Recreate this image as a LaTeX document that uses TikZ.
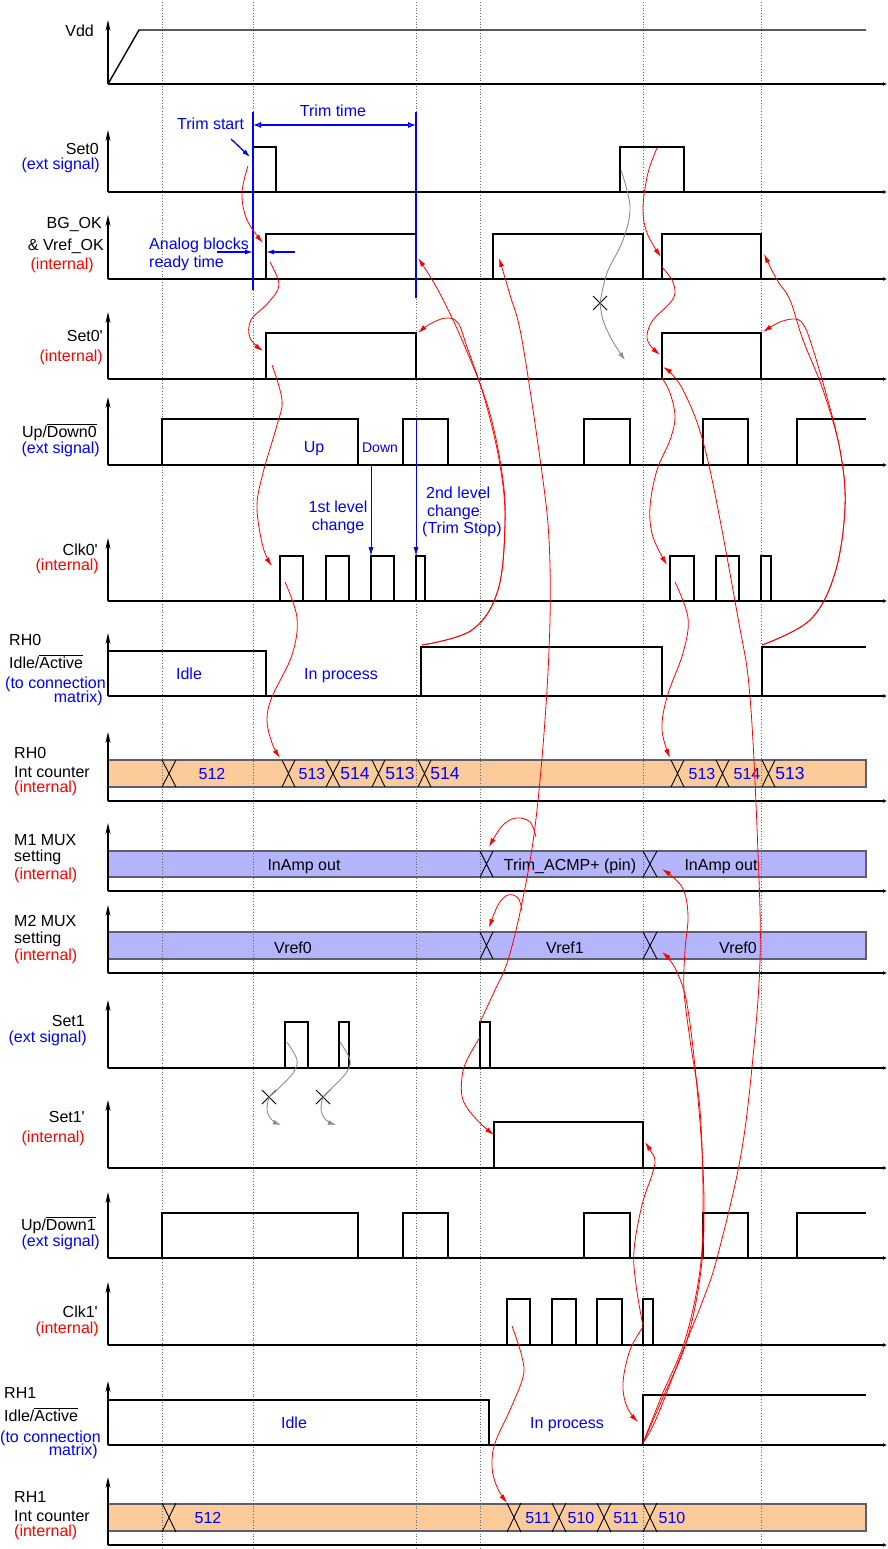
\documentclass[tikz,border=0pt]{standalone}
\usepackage{fontspec}
\setmainfont{Liberation Sans}[Ligatures=TeXOff]
\usetikzlibrary{arrows.meta,shapes.misc}
\definecolor{cblue}{RGB}{0,0,255}
\definecolor{cred}{RGB}{255,0,0}
\definecolor{busorange}{RGB}{251,204,153}
\definecolor{buslav}{RGB}{180,180,255}
\definecolor{busedge}{RGB}{95,95,105}
\newcommand\fsz[1]{\fontsize{#1}{#1}\selectfont}
\newcommand\sigaxes[2]{\draw[axv] (108,#2) -- (108,#1); \draw[axh] (108,#2) -- (887,#2);}
\newcommand\busx[4]{\draw[xln] (#1,#3) -- (#2,#4) (#1,#4) -- (#2,#3);}
\begin{document}
\begin{tikzpicture}[x=1pt,y=-1pt,
  sig/.style={line width=2.8pt,line join=miter},
  axv/.style={line width=1.4pt,-{Stealth[length=11pt,width=5pt]}},
  axh/.style={line width=1.4pt,-{Latex[length=4pt,width=4pt]}},
  gridln/.style={black!60,dotted,line width=0.8pt},
  xln/.style={black,line width=0.9pt},
  busA/.style={fill=busorange,draw=busedge,line width=1.3pt},
  busB/.style={fill=buslav,draw=busedge,line width=1.3pt},
  lbl/.style={inner sep=0pt,font=\fsz{16}},
  lblb/.style={lbl,text=cblue},
  lblr/.style={lbl,text=cred},
  bline/.style={cblue,line width=1.3pt},
  barrow/.style={cblue,line width=1.3pt,-{Latex[length=8pt,width=5pt]}},
  barrowthin/.style={cblue,line width=0.9pt,-{Latex[length=9pt,width=5pt]}},
  cause/.style={cred,line width=0.8pt,-{Latex[length=9pt,width=5pt]}},
  causeline/.style={cred,line width=0.8pt},
  blocked/.style={black!45,line width=0.9pt},
  blockedarr/.style={black!45,line width=0.9pt,-{Latex[length=8pt,width=5pt]}},
  nox/.style={cross out,draw=black,line width=1pt,minimum size=13pt,inner sep=0pt}
]
\useasboundingbox (0,0) rectangle (887,1549);

% ---------------- bus bars ----------------
\draw[busA] (108,760) rectangle (866,787);
\draw[busB] (108,851) rectangle (866,877);
\draw[busB] (108,932) rectangle (866,959);
\draw[busA] (108,1504) rectangle (866,1531);

% ---------------- grid ----------------
\foreach \gx in {162,253,416,480,643,761} {\draw[gridln] (\gx,2) -- (\gx,1549);}

% ---------------- axes ----------------
\sigaxes{20}{84}
\sigaxes{130}{192}
\sigaxes{215}{279}
\sigaxes{312}{379}
\sigaxes{397}{465}
\sigaxes{538}{601}
\sigaxes{633}{696}
\sigaxes{732}{801}
\sigaxes{823}{891}
\sigaxes{905}{973}
\sigaxes{1000}{1068}
\sigaxes{1100}{1168}
\sigaxes{1192}{1258}
\sigaxes{1282}{1345}
\sigaxes{1381}{1445}
\sigaxes{1477}{1545}

% ---------------- signals ----------------
\draw[line width=1.4pt] (108,84) -- (139,30) -- (866,30);
\draw[sig] (108,192) -| (253,147) -| (276,192) -| (620,147) -| (684,192) -- (866,192);
\draw[sig] (108,279) -| (266,234) -| (416,279) -| (493,234) -| (643,279) -| (662,234) -| (761,279) -- (866,279);
\draw[sig] (108,379) -| (266,333) -| (416,379) -| (662,333) -| (761,379) -- (866,379);
\draw[sig] (108,465) -| (162,419) -| (358,465) -| (403,419) -| (448,465) -| (584,419) -| (630,465) -| (703,419) -| (748,465) -| (797,419) -- (866,419);
\draw[sig] (108,601) -| (280,556) -| (303,601) -| (326,556) -| (349,601) -| (371,556) -| (394,601) -| (416,556) -| (425,601) -| (670,556) -| (694,601) -| (716,556) -| (739,601) -| (761,556) -| (771,601) -- (866,601);
\draw[sig] (108,651) -| (266,696) -| (421,647) -| (662,696) -| (762,647) -- (866,647);
\draw[sig] (108,1068) -| (285,1022) -| (308,1068) -| (339,1022) -| (349,1068) -| (480,1022) -| (490,1068) -- (866,1068);
\draw[sig] (108,1168) -| (494,1122) -| (643,1168) -- (866,1168);
\draw[sig] (108,1258) -| (162,1213) -| (358,1258) -| (403,1213) -| (448,1258) -| (584,1213) -| (630,1258) -| (703,1213) -| (748,1258) -| (797,1213) -- (866,1213);
\draw[sig] (108,1345) -| (507,1299) -| (530,1345) -| (552,1299) -| (576,1345) -| (597,1299) -| (622,1345) -| (643,1299) -| (653,1345) -- (866,1345);
\draw[sig] (108,1400) -| (489,1445) -| (643,1395) -- (866,1395);

% ---------------- bus crossings ----------------
\foreach \a/\b in {162/176,282/295,326/340,372/385,418/431,671/684,716/729,762/775} {\busx{\a}{\b}{760}{787}}
\foreach \a/\b in {480/493,643/657} {\busx{\a}{\b}{851}{877}\busx{\a}{\b}{932}{959}}
\foreach \a/\b in {162/176,507/521,552/566,597/611,643/657} {\busx{\a}{\b}{1503}{1532}}

% ---------------- left labels ----------------
\node[lbl,anchor=base east] (lvdd) at (94,37) {Vdd};
\node[lbl,anchor=base east] (lset0) at (99,155) {Set0};
\node[lblb,anchor=base east] (lset0b) at (100,170) {(ext signal)};
\node[lbl,anchor=base east] (lbg) at (102,228) {BG\_OK};
\node[lbl,anchor=base east] (lvref) at (104,250) {\& Vref\_OK};
\node[lblr,anchor=base east] (lbgr) at (94,269) {(internal)};
\node[lbl,anchor=base east] (lset0p) at (103,341) {Set0'};
\node[lblr,anchor=base east] (lset0pr) at (103,361) {(internal)};
\node[lbl,anchor=base east] (lud0) at (97,437) {Up/$\overline{\mbox{Down0}}$};
\node[lblb,anchor=base east] (lud0b) at (100,453) {(ext signal)};
\node[lbl,anchor=base east] (lclk0) at (98,555) {Clk0'};
\node[lblr,anchor=base east] (lclk0r) at (99,570) {(internal)};
\node[lbl,anchor=base west] (lrh0) at (9,645) {RH0};
\node[lbl,anchor=base west] (lrh0i) at (9,668) {Idle/$\overline{\mbox{Active}}$};
\node[lblb,anchor=base west] (lrh0c) at (5,688) {(to connection};
\node[lblb,anchor=base east] (lrh0m) at (103,702) {matrix)};
\node[lbl,anchor=base west] (lc0) at (14,758) {RH0};
\node[lbl,anchor=base west] (lc0i) at (14,777) {Int counter};
\node[lblr,anchor=base west] (lc0r) at (14,792) {(internal)};
\node[lbl,anchor=base west] (lm1) at (14,845) {M1 MUX};
\node[lbl,anchor=base west] (lm1s) at (14,861) {setting};
\node[lblr,anchor=base west] (lm1r) at (14,879) {(internal)};
\node[lbl,anchor=base west] (lm2) at (14,926) {M2 MUX};
\node[lbl,anchor=base west] (lm2s) at (14,943) {setting};
\node[lblr,anchor=base west] (lm2r) at (14,960) {(internal)};
\node[lbl,anchor=base east] (lset1) at (85,1026) {Set1};
\node[lblb,anchor=base east] (lset1b) at (87,1042) {(ext signal)};
\node[lbl,anchor=base east] (lset1p) at (85,1122) {Set1'};
\node[lblr,anchor=base east] (lset1pr) at (85,1142) {(internal)};
\node[lbl,anchor=base east] (lud1) at (96,1230) {Up/$\overline{\mbox{Down1}}$};
\node[lblb,anchor=base east] (lud1b) at (100,1246) {(ext signal)};
\node[lbl,anchor=base east] (lclk1) at (98,1317) {Clk1'};
\node[lblr,anchor=base east] (lclk1r) at (99,1333) {(internal)};
\node[lbl,anchor=base west] (lrh1) at (4,1398) {RH1};
\node[lbl,anchor=base west] (lrh1i) at (4,1421) {Idle/$\overline{\mbox{Active}}$};
\node[lblb,anchor=base west] (lrh1c) at (0,1442) {(to connection};
\node[lblb,anchor=base east] (lrh1m) at (98,1455) {matrix)};
\node[lbl,anchor=base west] (lc1) at (14,1502) {RH1};
\node[lbl,anchor=base west] (lc1i) at (14,1521) {Int counter};
\node[lblr,anchor=base west] (lc1r) at (14,1536) {(internal)};

% ---------------- in-diagram labels ----------------
\node[lblb,anchor=base] (tidle0) at (189,679) {Idle};
\node[lblb,anchor=base] (tproc0) at (341,679) {In process};
\node[lblb,anchor=base] (tup) at (314,452) {Up};
\node[lblb,anchor=base,font=\fsz{14}] (tdown) at (380,452) {Down};
\node[lblb,anchor=base] (t1a) at (338,512) {1st level};
\node[lblb,anchor=base] (t1b) at (338,530) {change};
\node[lblb,anchor=base west] (t2a) at (426,498) {2nd level};
\node[lblb,anchor=base west] (t2b) at (427,516) {change};
\node[lblb,anchor=base west] (t2c) at (422,533) {(Trim Stop)};
\node[lblb,anchor=base] (ttt) at (333,117) {Trim time};
\node[lblb,anchor=base west] (tts) at (177,130) {Trim start};
\node[lblb,anchor=base west] (tab1) at (149,249) {Analog blocks};
\node[lblb,anchor=base west] (tab2) at (149,267) {ready time};
\foreach \px/\txt/\sz in {212/512/16,312/513/16,355/514/17.5,400/513/17.5,445/514/17.5,702/513/16,747/514/16,790/513/17.5}
  {\node[lblb,anchor=base,font=\fsz{\sz}] at (\px,779) {\txt};}
\node[lbl,anchor=base] (m1a) at (304,870) {InAmp out};
\node[lbl,anchor=base] (m1b) at (570,870) {Trim\_ACMP+ (pin)};
\node[lbl,anchor=base] (m1c) at (721,870) {InAmp out};
\node[lbl,anchor=base] (m2a) at (293,953) {Vref0};
\node[lbl,anchor=base] (m2b) at (565,953) {Vref1};
\node[lbl,anchor=base] (m2c) at (738,953) {Vref0};
\node[lblb,anchor=base] (tidle1) at (294,1428) {Idle};
\node[lblb,anchor=base] (tproc1) at (567,1428) {In process};
\foreach \px/\txt in {208/512,538/511,581/510,626/511,672/510}
  {\node[lblb,anchor=base] at (\px,1523) {\txt};}

% ---------------- blue annotations ----------------
\coordinate (tsA) at (253,112); \coordinate (tsB) at (253,290);
\coordinate (teA) at (416,112); \coordinate (teB) at (416,298);
\draw[bline] (tsA) -- (tsB);
\draw[bline] (teA) -- (teB);
\draw[cblue,line width=1.3pt,{Latex[open,length=8pt,width=6pt]}-{Latex[open,length=8pt,width=6pt]}] (253,125) -- (416,125);
\draw[barrow] (231,139) -- (250,157);
\draw[barrow] (217,252) -- (253,252);
\draw[barrow] (295,252) -- (266,252);
\draw[barrowthin] (371,465) -- (371,556);
\draw[barrowthin] (416,420) -- (416,556);

% ---------------- cause/effect arrows ----------------
\draw[cause] plot[smooth,tension=0.6] coordinates {(248,166) (242,193) (247,220) (263,243)};
\draw[cause] plot[smooth,tension=0.6] coordinates {(270,262) (279,285) (268,303) (251,320) (250,338) (263,351)};
\draw[cause] plot[smooth,tension=0.6] coordinates {(272,365) (282,400) (277,425) (263,473) (257,507) (263,547) (272,566)};
\draw[cause] plot[smooth,tension=0.6] coordinates {(285,582) (297,618) (292,655) (272,697) (267,720) (272,743) (280,758)};
\draw[cause] plot[smooth,tension=0.6] coordinates {(422,645) (472,630) (498,590) (505,523) (502,473) (488,407) (462,340) (438,290) (418,258)};
\draw[cause] plot[smooth,tension=0.6] coordinates {(422,645) (472,630) (498,590) (505,523) (500,465) (485,400) (467,347) (458,323) (446,318) (430,324) (418,333)};
\draw[cause] plot[smooth,tension=0.6] coordinates {(657,148) (648,173) (643,207) (647,233) (661,257)};
\draw[cause] plot[smooth,tension=0.6] coordinates {(662,267) (672,280) (675,293) (670,303) (653,320) (647,335) (650,345) (660,355)};
\draw[cause] plot[smooth,tension=0.6] coordinates {(662,378) (670,393) (675,417) (670,440) (657,470) (650,507) (653,537) (667,565)};
\draw[cause] plot[smooth,tension=0.6] coordinates {(675,582) (688,618) (683,653) (667,697) (662,730) (670,758)};
\draw[cause] plot[smooth,tension=0.6] coordinates {(762,645) (810,620) (835,573) (845,507) (840,450) (823,390) (803,340) (790,300) (777,280) (764,254)};
\draw[cause] plot[smooth,tension=0.6] coordinates {(762,645) (810,620) (835,573) (845,507) (840,450) (825,390) (810,340) (803,324) (795,319) (780,322) (763,332)};
\draw[cause] plot[smooth,tension=0.6] coordinates {(480,1022) (495,990) (508,960) (522,903) (535,827) (545,720) (550,620) (549,540) (542,473) (522,340) (510,295) (499,258)};
\draw[cause] plot[smooth,tension=0.6] coordinates {(536,837) (530,822) (516,818) (502,826) (489,847)};
\draw[cause] plot[smooth,tension=0.6] coordinates {(522,910) (518,898) (508,895) (498,905) (489,928)};
\draw[cause] plot[smooth,tension=0.6] coordinates {(480,1037) (467,1060) (462,1077) (463,1100) (477,1120) (494,1135)};
\draw[cause] plot[smooth,tension=0.6] coordinates {(512,1326) (522,1357) (523,1377) (510,1410) (495,1443) (492,1467) (497,1487) (507,1503)};
\draw[cause] plot[smooth,tension=0.6] coordinates {(643,1326) (636,1285) (634,1250) (642,1205) (652,1175) (655,1160) (650,1150) (645,1142)};
\draw[cause] plot[smooth,tension=0.6] coordinates {(643,1327) (630,1350) (623,1383) (627,1407) (638,1422)};
\draw[cause] plot[smooth,tension=0.6] coordinates {(643,1443) (662,1395) (685,1340) (700,1270) (703,1200) (700,1110) (690,1040) (684,990) (685,950) (688,915) (682,887) (662,869)};
\draw[cause] plot[smooth,tension=0.6] coordinates {(643,1443) (664,1395) (687,1340) (701,1270) (704,1200) (699,1110) (688,1010) (676,970) (662,952)};
\draw[cause] plot[smooth,tension=0.6] coordinates {(643,1443) (657,1417) (683,1350) (703,1300) (717,1258) (740,1160) (752,1067) (760,960) (758,853) (750,697) (738,618) (707,457) (683,390) (663,367)};

% ---------------- ignored triggers ----------------
\node[nox] (xa) at (600,303) {};
\node[nox] (xb) at (269,1097) {};
\node[nox] (xc) at (323,1097) {};
\draw[blocked] plot[smooth,tension=0.6] coordinates {(621,170) (630,207) (623,240) (607,273) (xa.center)};
\draw[blockedarr] plot[smooth,tension=0.6] coordinates {(xa.center) (603,320) (612,340) (625,360)};
\draw[blocked] plot[smooth,tension=0.6] coordinates {(287,1042) (297,1060) (293,1073) (280,1087) (xb.center)};
\draw[blockedarr] plot[smooth,tension=0.6] coordinates {(xb.center) (267,1110) (272,1120) (281,1125)};
\draw[blocked] plot[smooth,tension=0.6] coordinates {(340,1042) (350,1060) (346,1073) (333,1087) (xc.center)};
\draw[blockedarr] plot[smooth,tension=0.6] coordinates {(xc.center) (321,1110) (326,1120) (336,1125)};
\end{tikzpicture}
\end{document}
